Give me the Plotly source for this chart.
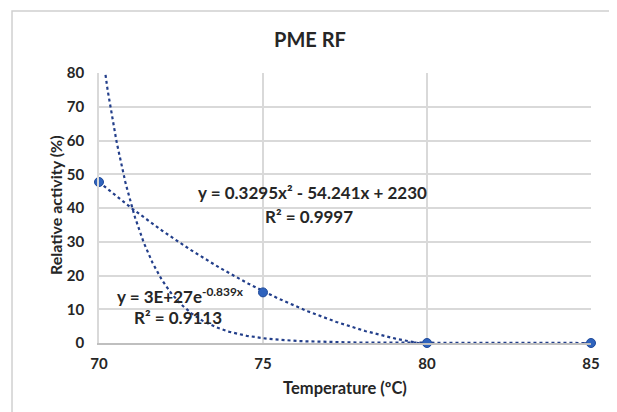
import numpy as np
import plotly.graph_objects as go

# Data
temperature = [70, 75, 80, 85]
activity = [47.7, 15.0, 0.0, 0.0]

# Trendline coefficients as displayed on the chart
poly_coef = [0.3295, -54.241, 2230]   # y = a x^2 + b x + c
exp_coef = [3e27, -0.839]             # y = A e^(k x)

poly_eq = "y = 0.3295x² - 54.241x + 2230"
poly_r2 = "R² = 0.9997"
exp_eq = "y = 3E+27e<sup>-0.839x</sup>"
exp_r2 = "R² = 0.9113"

x_ticks = [70, 75, 80, 85]
y_ticks = [0, 10, 20, 30, 40, 50, 60, 70, 80]

xs = np.linspace(70, 85, 600)
poly_y = np.polyval(poly_coef, xs)
exp_y = exp_coef[0] * np.exp(exp_coef[1] * xs)

FONT = "Lato"
TXT = "#262626"
line_color = "#223E8A"

fig = go.Figure()
fig.add_trace(go.Scatter(x=xs, y=exp_y, mode="lines",
                         line=dict(color=line_color, width=2.2, dash="dot"),
                         hoverinfo="skip", showlegend=False))
fig.add_trace(go.Scatter(x=xs, y=poly_y, mode="lines",
                         line=dict(color=line_color, width=2.2, dash="dot"),
                         hoverinfo="skip", showlegend=False))
fig.add_trace(go.Scatter(x=temperature, y=activity, mode="markers",
                         marker=dict(size=9, color="#2F63BD",
                                     line=dict(color="#1F4A9A", width=1)),
                         cliponaxis=False, showlegend=False))

def label(text, x, y, size=17, angle=0):
    fig.add_annotation(x=x, y=y, xref="paper", yref="paper",
                       text=f"<b>{text}</b>", showarrow=False, textangle=angle,
                       xanchor="center", yanchor="middle",
                       font=dict(family=FONT, size=size, color=TXT))

label(poly_eq, 0.433, 0.556)
label(poly_r2, 0.427, 0.467)
label(exp_eq, 0.165, 0.176)
label(exp_r2, 0.161, 0.093)
# y-axis title
label("Relative activity (%)", -0.0894, 0.511, size=16, angle=-90)

# outer chart border
fig.add_shape(type="rect", xref="paper", yref="paper",
              x0=-0.1768, x1=1.0508, y0=-0.35, y1=1.2296,
              line=dict(color="#D0D0D0", width=1.5), layer="below")

fig.update_layout(
    width=617, height=412,
    margin=dict(l=91, r=34, t=65, b=77),
    paper_bgcolor="white", plot_bgcolor="white",
    title=dict(text="<b>PME RF</b>", x=302 / 617, xref="container", xanchor="center",
               y=1 - 32 / 412, yref="container", yanchor="middle",
               font=dict(family=FONT, size=20, color=TXT)),
    font=dict(family=FONT, color=TXT),
)
fig.update_xaxes(range=[70, 85], tickvals=x_ticks,
                 ticktext=[f"<b>{t}</b>" for t in x_ticks],
                 showgrid=True, gridcolor="#D9D9D9", gridwidth=1.5,
                 showline=True, linecolor="#BFBFBF", linewidth=1.5, mirror=False,
                 zeroline=False, ticks="outside", ticklen=6, tickcolor="rgba(0,0,0,0)",
                 tickfont=dict(size=15),
                 title=dict(text="<b>Temperature (ºC)</b>", font=dict(size=16.5), standoff=12))
fig.update_yaxes(range=[0, 80], tickvals=y_ticks,
                 ticktext=[f"<b>{t}</b>" for t in y_ticks],
                 showgrid=True, gridcolor="#D9D9D9", gridwidth=1.5,
                 showline=True, linecolor="#D9D9D9", linewidth=1.5, mirror=False,
                 zeroline=False, ticks="outside", ticklen=10, tickcolor="rgba(0,0,0,0)",
                 tickfont=dict(size=15))

fig.write_html("out.html")
